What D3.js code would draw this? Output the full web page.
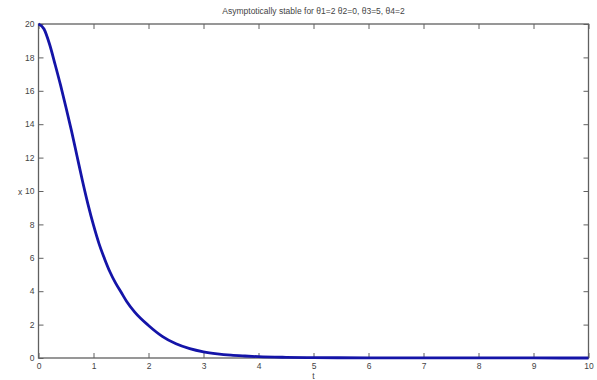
<!DOCTYPE html>
<html><head><meta charset="utf-8">
<script src="https://cdn.jsdelivr.net/npm/d3@7"></script>
<style>body{margin:0;background:#fff}svg{display:block}</style>
</head><body>
<svg id="c" width="597" height="380"></svg>
<script>
const tValues = [0,0.1,0.2,0.3,0.4,0.5,0.6,0.7,0.8,0.9,1.0,1.1,1.2,1.3,1.4,1.5,1.6,1.75,2.0,2.25,2.5,2.75,3.0,3.25,3.5,3.75,4.0,4.5,5,6,7,8,9,10];
const xValues = [20,19.7,18.8,17.6,16.35,15.0,13.6,12.1,10.6,9.2,7.95,6.85,5.95,5.15,4.5,3.95,3.4,2.75,1.95,1.3,0.85,0.56,0.37,0.25,0.17,0.12,0.08,0.04,0.02,0.01,0.005,0.003,0.002,0.001];
const xTicks = [0,1,2,3,4,5,6,7,8,9,10];
const yTicks = [0,2,4,6,8,10,12,14,16,18,20];
const titleText = "Asymptotically stable for θ1=2 θ2=0, θ3=5, θ4=2";

const svg = d3.select("#c");
const L=38.5, R=588.5, T=24, B=358;
const x = d3.scaleLinear().domain([0,10]).range([L,R]);
const y = d3.scaleLinear().domain([0,20]).range([B,T]);
const axisCol="#606060", font="Liberation Sans, Arial, sans-serif";

svg.append("rect").attr("x",L).attr("y",T).attr("width",R-L).attr("height",B-T)
  .attr("fill","none").attr("stroke",axisCol).attr("stroke-width",1.3);

function styleAxis(g){
  g.select(".domain").remove();
  g.selectAll("line").attr("stroke",axisCol).attr("stroke-width",1);
  g.selectAll("text").attr("fill","#444").style("font-family",font).style("font-size","8.5px");
}
svg.append("g").attr("transform",`translate(0,${B})`)
  .call(d3.axisBottom(x).tickValues(xTicks).tickSize(-5).tickPadding(5).tickFormat(d3.format("d")))
  .call(styleAxis);
svg.append("g").attr("transform",`translate(0,${T})`)
  .call(d3.axisTop(x).tickValues(xTicks).tickSize(-5).tickFormat(""))
  .call(styleAxis);
svg.append("g").attr("transform",`translate(${L},0)`)
  .call(d3.axisLeft(y).tickValues(yTicks).tickSize(-5).tickPadding(4).tickFormat(d3.format("d")))
  .call(styleAxis);
svg.append("g").attr("transform",`translate(${R},0)`)
  .call(d3.axisRight(y).tickValues(yTicks).tickSize(-5).tickFormat(""))
  .call(styleAxis);

const data = tValues.map((t,i)=>({t, v:xValues[i]}));
svg.append("path").datum(data)
  .attr("fill","none").attr("stroke","#1414a8").attr("stroke-width",2.8)
  .attr("stroke-linejoin","round")
  .attr("d", d3.line().x(d=>x(d.t)).y(d=>y(d.v)).curve(d3.curveMonotoneX));

svg.append("text").attr("x",(L+R)/2).attr("y",14).attr("text-anchor","middle")
  .style("font-family",font).style("font-size","8.5px").attr("fill","#444").text(titleText);
svg.append("text").attr("x",(L+R)/2).attr("y",378.5).attr("text-anchor","middle")
  .style("font-family",font).style("font-size","8.5px").attr("fill","#444").text("t");
svg.append("text").attr("x",20).attr("y",195).attr("text-anchor","middle")
  .style("font-family",font).style("font-size","8.5px").attr("fill","#444").text("x");
</script>
</body></html>
